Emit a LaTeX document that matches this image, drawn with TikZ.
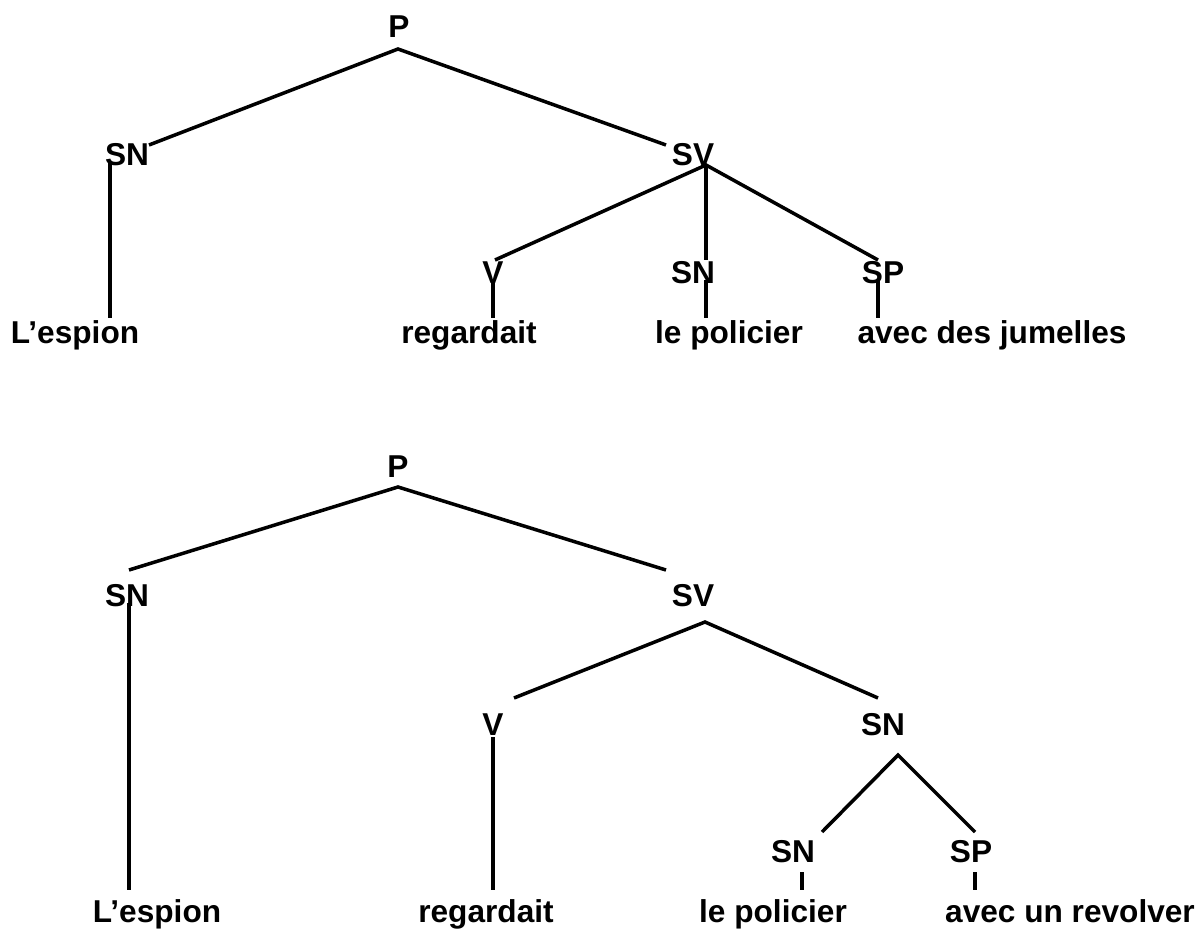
\documentclass[tikz,border=0pt]{standalone}
\usepackage{fontspec}
\setmainfont{Liberation Sans}
\usetikzlibrary{positioning, calc}

\begin{document}
\begin{tikzpicture}[
  x=0.02cm, y=-0.02cm,
  cat/.style={font=\bfseries\fontsize{18}{21}\selectfont, inner sep=0pt, anchor=base},
  word/.style={font=\bfseries\fontsize{18}{21}\selectfont, inner sep=0pt, anchor=base},
  branch/.style={line width=2pt, line cap=butt}
]
\useasboundingbox (0,0) rectangle (1200,932);

% First tree: SP under SV
\node[cat] (p1) at (399,38) {P};
\node[cat] (sn1) at (127,166) {SN};
\node[cat] (sv1) at (693,166) {SV};
\node[cat] (v1) at (493,284) {V};
\node[cat] (snb1) at (693,284) {SN};
\node[cat] (sp1) at (883,284) {SP};
\node[word] (w11) at (75,344) {L’espion};
\node[word] (w12) at (469,344) {regardait};
\node[word] (w13) at (729,344) {le policier};
\node[word] (w14) at (992,344) {avec des jumelles};

\coordinate (p1f) at (398,49);
\coordinate (sn1h) at (149,145);
\coordinate (sn1f) at (110,163);
\coordinate (sv1h) at (666,145);
\coordinate (sv1f) at (706,165);
\coordinate (v1h) at (495,260);
\coordinate (v1f) at (493,280);
\coordinate (snb1h) at (706,260);
\coordinate (snb1f) at (706,280);
\coordinate (sp1h) at (878,260);
\coordinate (sp1f) at (878,280);
\coordinate (w11t) at (110,318);
\coordinate (w12t) at (493,318);
\coordinate (w13t) at (706,318);
\coordinate (w14t) at (878,318);

\draw[branch] (sn1h) -- (p1f) -- (sv1h);
\draw[branch] (sn1f) -- (w11t);
\draw[branch] (v1h) -- (sv1f) -- (sp1h);
\draw[branch] (sv1f) -- (snb1h);
\draw[branch] (v1f) -- (w12t);
\draw[branch] (snb1f) -- (w13t);
\draw[branch] (sp1f) -- (w14t);

% Second tree: SP under SN
\node[cat] (p2) at (398,477) {P};
\node[cat] (sn2) at (127,606) {SN};
\node[cat] (sv2) at (693,606) {SV};
\node[cat] (v2) at (493,735) {V};
\node[cat] (snb2) at (883,735) {SN};
\node[cat] (snc2) at (793,862) {SN};
\node[cat] (sp2) at (971,862) {SP};
\node[word] (w21) at (157,922) {L’espion};
\node[word] (w22) at (486,922) {regardait};
\node[word] (w23) at (773,922) {le policier};
\node[word] (w24) at (1070,922) {avec un revolver};

\coordinate (p2f) at (398,487);
\coordinate (sn2h) at (129,570);
\coordinate (sn2f) at (129,603);
\coordinate (sv2h) at (666,570);
\coordinate (sv2f) at (705,622);
\coordinate (v2h) at (514,698);
\coordinate (v2f) at (493,737);
\coordinate (snb2h) at (878,698);
\coordinate (snb2f) at (898,755);
\coordinate (snc2h) at (822,832);
\coordinate (snc2f) at (802,872);
\coordinate (sp2h) at (975,832);
\coordinate (sp2f) at (975,872);
\coordinate (w21t) at (129,890);
\coordinate (w22t) at (493,890);
\coordinate (w23t) at (802,890);
\coordinate (w24t) at (975,890);

\draw[branch] (sn2h) -- (p2f) -- (sv2h);
\draw[branch] (sn2f) -- (w21t);
\draw[branch] (v2h) -- (sv2f) -- (snb2h);
\draw[branch] (v2f) -- (w22t);
\draw[branch] (snc2h) -- (snb2f) -- (sp2h);
\draw[branch] (snc2f) -- (w23t);
\draw[branch] (sp2f) -- (w24t);

\end{tikzpicture}
\end{document}
